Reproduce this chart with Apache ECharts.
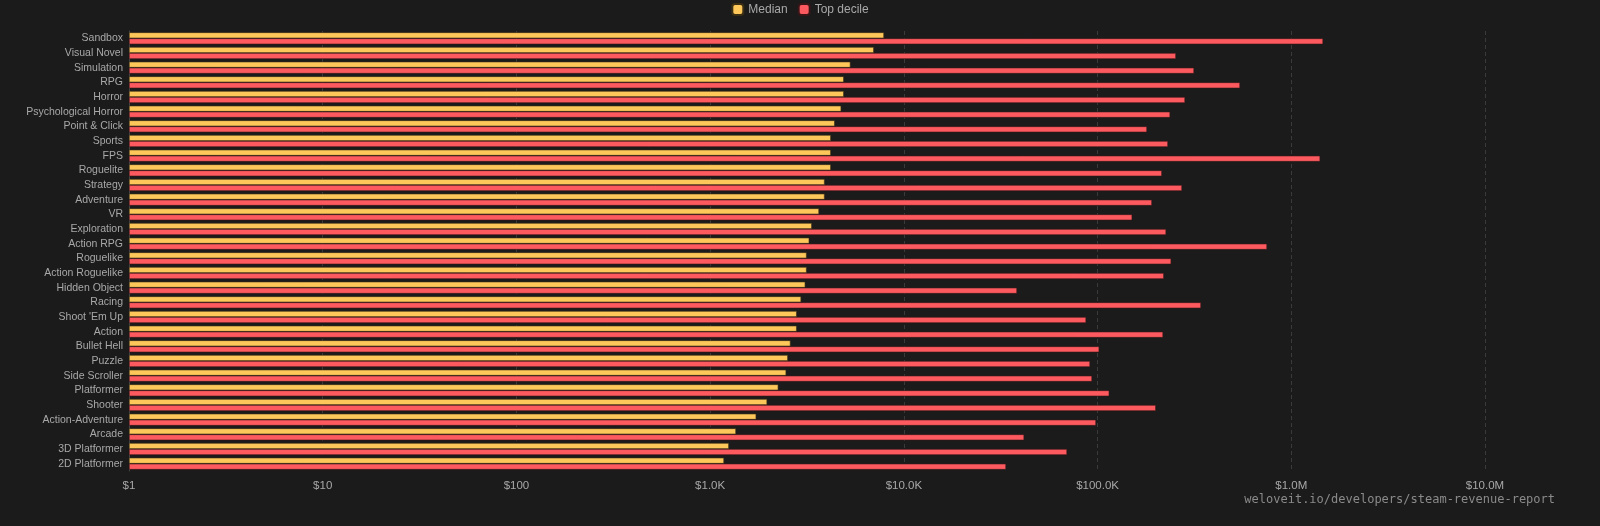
<!DOCTYPE html>
<html>
<head>
<meta charset="utf-8">
<script src="https://cdn.jsdelivr.net/npm/echarts@6/dist/echarts.min.js"></script>
<style>
  html, body { margin: 0; padding: 0; background: #1b1b1b; }
  #main { width: 1600px; height: 526px; }
</style>
</head>
<body>
<div id="main"></div>
<script>
var genres = ['Sandbox', 'Visual Novel', 'Simulation', 'RPG', 'Horror', 'Psychological Horror',
    'Point & Click', 'Sports', 'FPS', 'Roguelite', 'Strategy', 'Adventure', 'VR', 'Exploration',
    'Action RPG', 'Roguelike', 'Action Roguelike', 'Hidden Object', 'Racing', "Shoot 'Em Up",
    'Action', 'Bullet Hell', 'Puzzle', 'Side Scroller', 'Platformer', 'Shooter',
    'Action-Adventure', 'Arcade', '3D Platformer', '2D Platformer'];

var median = [7900, 7000, 5300, 4900, 4900, 4750, 4400, 4200, 4200, 4200, 3900, 3900, 3650, 3350,
    3250, 3150, 3150, 3100, 2950, 2800, 2800, 2600, 2520, 2470, 2250, 1970, 1730, 1360, 1250, 1180];

var topDecile = [1460000, 254000, 315000, 544000, 283000, 237000, 180000, 231000, 1410000, 215000,
    273000, 191000, 151000, 226000, 750000, 240000, 220000, 38400, 342000, 87300,
    218000, 102000, 91500, 93700, 115000, 200000, 98200, 41800, 69600, 33700];

function money(v) {
    if (v >= 1e6) return '$' + (v / 1e6).toFixed(1) + 'M';
    if (v >= 1e3) return '$' + (v / 1e3).toFixed(1) + 'K';
    return '$' + v;
}

var chart = echarts.init(document.getElementById('main'));
chart.setOption({
    backgroundColor: '#1b1b1b',
    animation: false,
    textStyle: { fontFamily: 'Liberation Sans' },
    legend: {
        top: -2,
        left: 'center',
        itemWidth: 11,
        itemHeight: 11,
        itemGap: 10,
        icon: 'roundRect',
        textStyle: { color: '#a8a8a8', fontSize: 12 },
        data: ['Median', 'Top decile']
    },
    grid: { left: 129, right: 115, top: 31, bottom: 55 },
    xAxis: {
        type: 'log',
        logBase: 10,
        min: 1,
        max: 10000000,
        axisLine: { show: false },
        axisTick: { show: false },
        axisLabel: { color: '#a8a8a8', fontSize: 11.5, margin: 9, formatter: money },
        splitLine: { show: true, lineStyle: { color: '#3a3a3a', type: [4, 3], width: 1 } },
        minorSplitLine: { show: false }
    },
    yAxis: {
        type: 'category',
        inverse: true,
        data: genres,
        axisLine: { show: true, lineStyle: { color: '#444' } },
        axisTick: { show: false },
        axisLabel: { color: '#a8a8a8', fontSize: 10.5, margin: 6 }
    },
    graphic: [{
        type: 'text',
        right: 45,
        top: 494,
        style: {
            text: 'weloveit.io/developers/steam-revenue-report',
            fill: '#8a8a8a',
            font: '12px "DejaVu Sans Mono"'
        }
    }],
    series: [
        {
            name: 'Median',
            type: 'bar',
            data: median,
            barWidth: 6,
            barGap: '0%',
            itemStyle: { color: '#fdc75a', borderColor: '#3a2e14', borderWidth: 0.6 }
        },
        {
            name: 'Top decile',
            type: 'bar',
            data: topDecile,
            barWidth: 6,
            itemStyle: { color: '#fc5a5f', borderColor: '#3a1618', borderWidth: 0.6 }
        }
    ]
});
</script>
</body>
</html>
